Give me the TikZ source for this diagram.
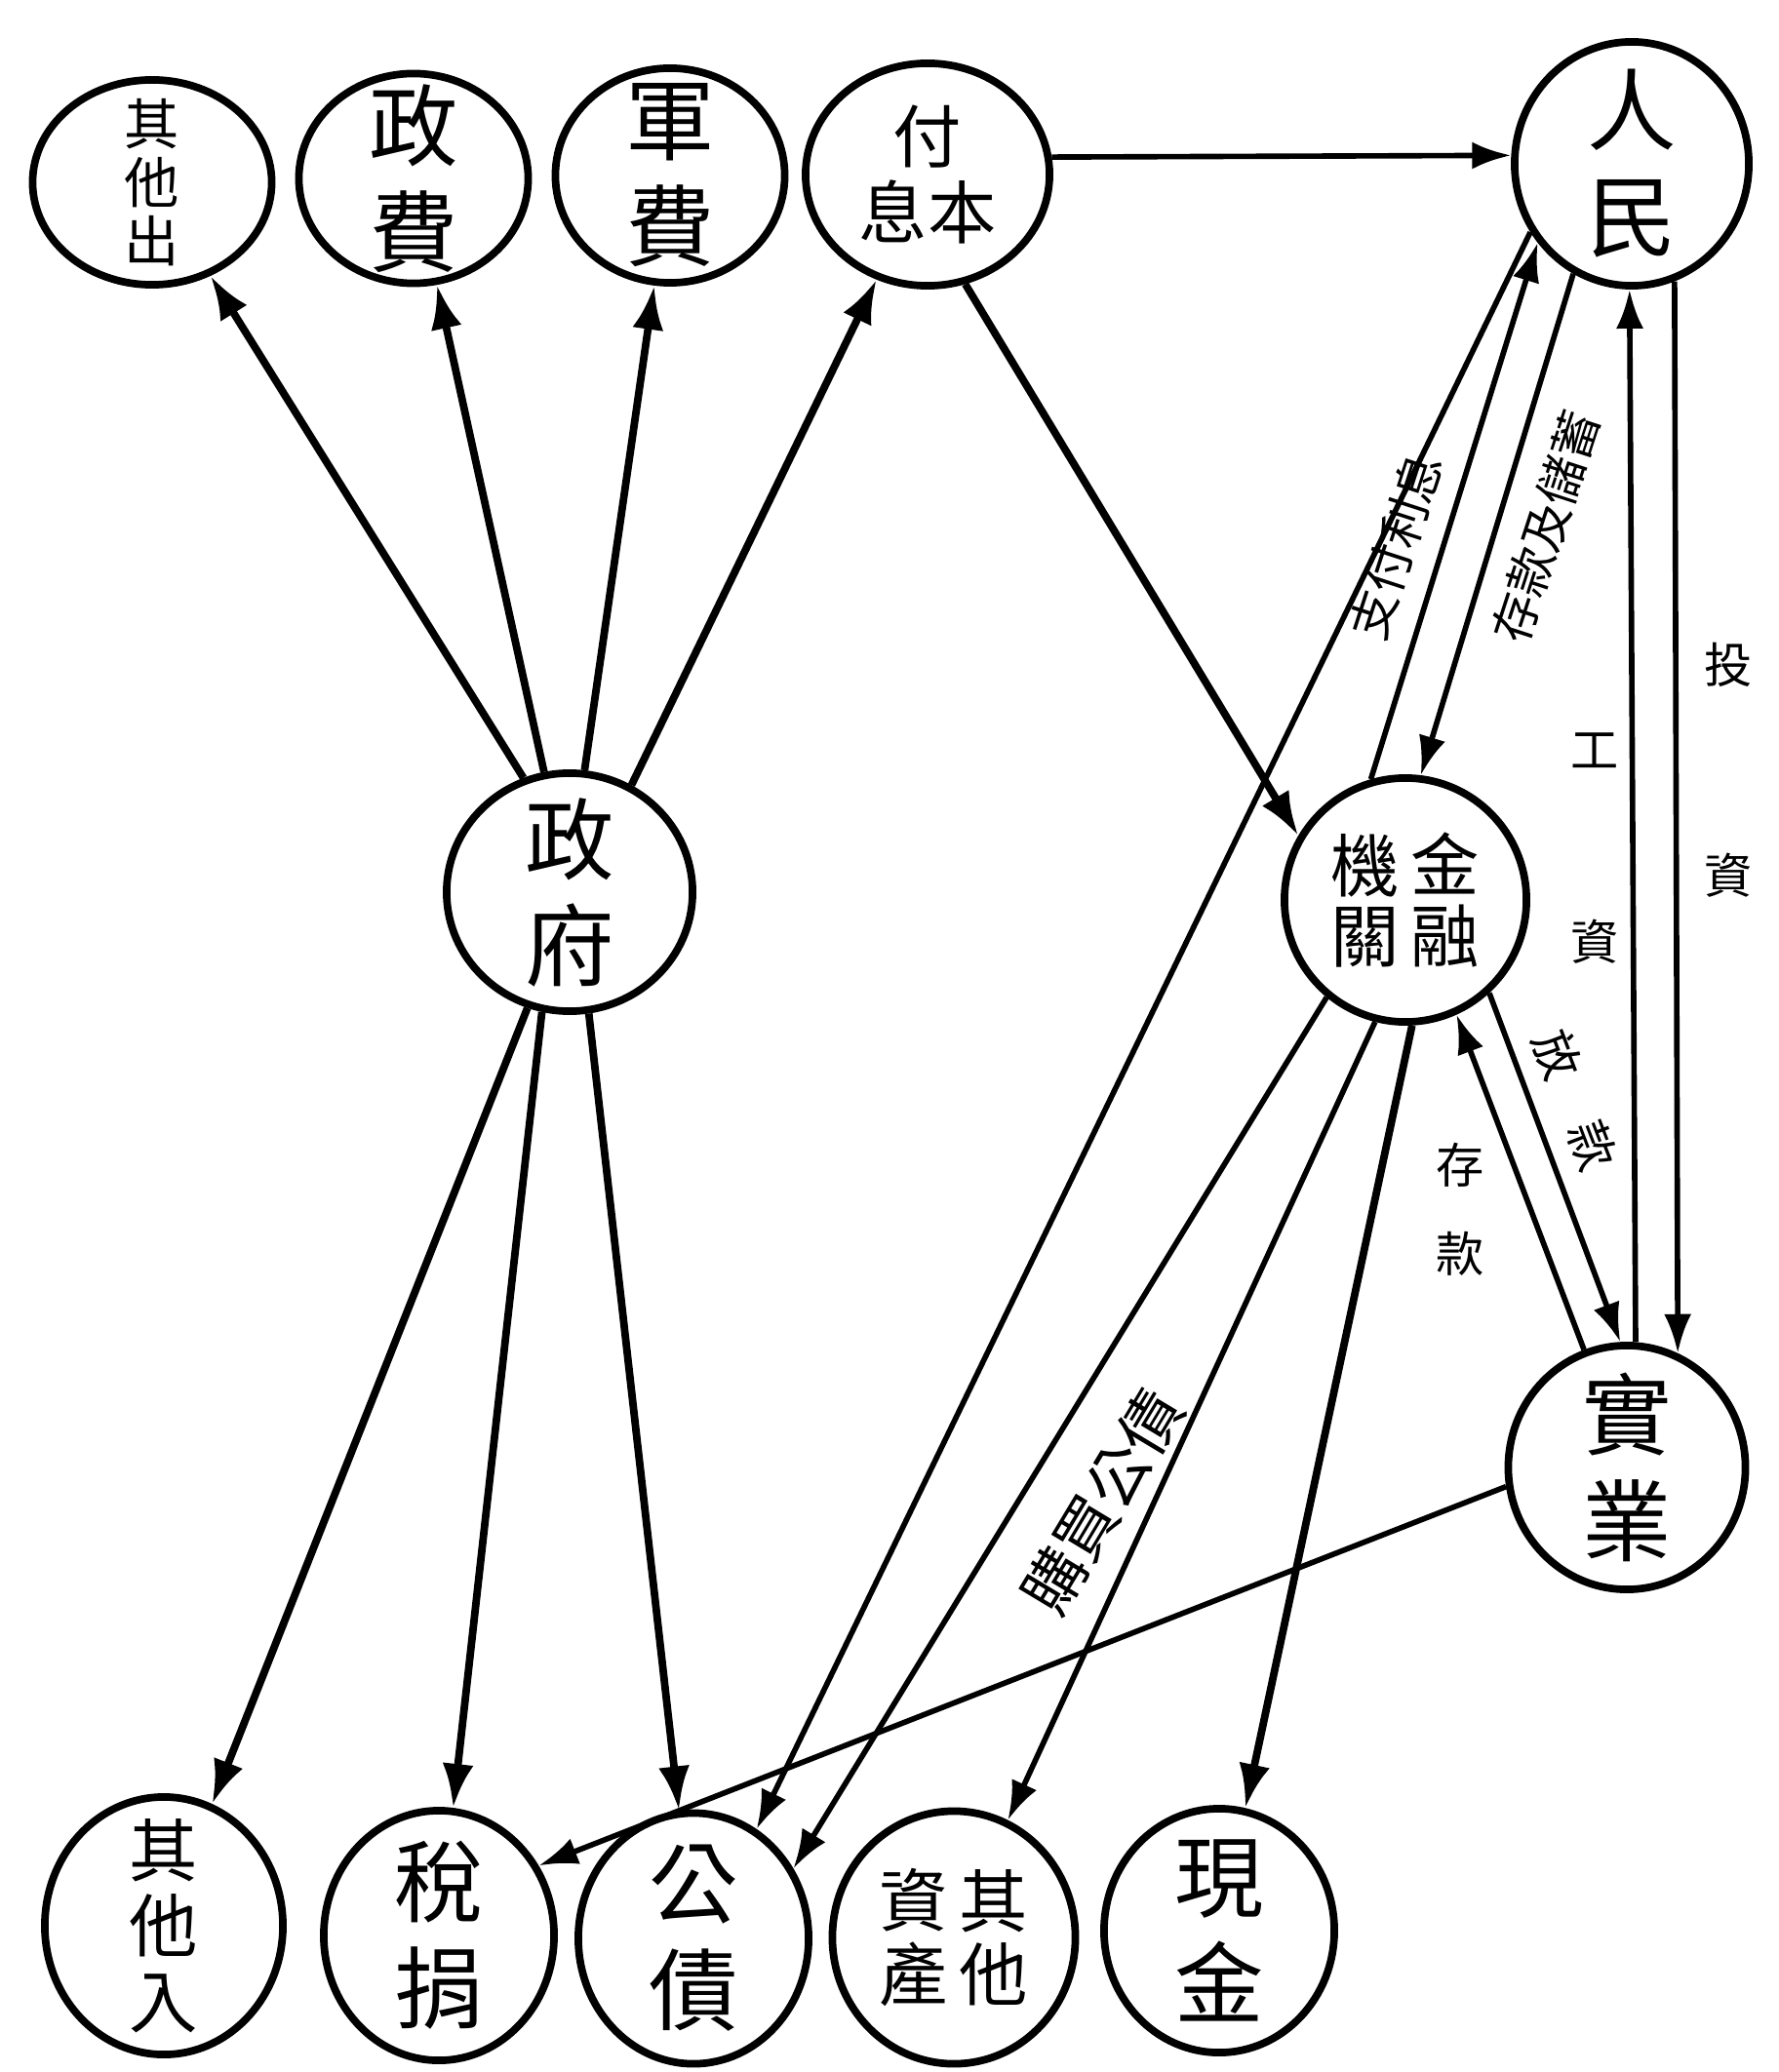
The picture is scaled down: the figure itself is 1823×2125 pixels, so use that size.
\documentclass[tikz,border=0pt]{standalone}
\usepackage{fontspec}
\newfontfamily\cjk{Noto Sans CJK TC}
\usetikzlibrary{arrows.meta,shapes.geometric}
\tikzset{
  bubble/.style={draw, ellipse, line width=2.2pt, inner sep=0pt},
  glyph/.style={font=\cjk\fontsize{26}{31}\selectfont, align=center, inner sep=0pt},
  smallglyph/.style={font=\cjk\fontsize{20}{22}\selectfont, align=center, inner sep=0pt},
  tinyglyph/.style={font=\cjk\fontsize{16}{17}\selectfont, align=center, inner sep=0pt},
  link/.style={line width=1.6pt},
  thicklink/.style={line width=2.2pt},
  flow/.style={link, -{Latex[length=4mm,width=2.8mm]}},
  thickflow/.style={thicklink, -{Latex[length=4.5mm,width=3.2mm]}},
  tag/.style={font=\cjk\fontsize{14}{16}\selectfont, inner sep=1pt, align=center}
}

\begin{document}
\begin{tikzpicture}[x=0.01cm, y=-0.01cm]
  \useasboundingbox (0,0) rectangle (1823,2125);
  % top row
  \node[bubble, minimum width=2.45cm, minimum height=2.1cm, label={[tinyglyph]center:{其\\他\\出}}] (ot) at (156,187) {};
  \node[bubble, minimum width=2.35cm, minimum height=2.15cm, label={[glyph]center:{政\\費}}] (zf) at (424,183) {};
  \node[bubble, minimum width=2.35cm, minimum height=2.2cm, label={[glyph]center:{軍\\費}}] (jf) at (687,180) {};
  \node[bubble, minimum width=2.5cm, minimum height=2.28cm, label={[smallglyph]center:{付\\息本}}] (fb) at (951,179) {};
  \node[bubble, minimum width=2.4cm, minimum height=2.5cm, label={[glyph]center:{人\\民}}] (rm) at (1673,168) {};
  % middle
  \node[bubble, minimum width=2.52cm, minimum height=2.44cm, label={[glyph]center:{政\\府}}] (gov) at (584,915) {};
  \node[bubble, minimum width=2.48cm, minimum height=2.5cm, label={[smallglyph]center:{\shortstack{機\\關}\,\shortstack{金\\融}}}] (bank) at (1441,923) {};
  \node[bubble, minimum width=2.43cm, minimum height=2.5cm, label={[glyph]center:{實\\業}}] (sy) at (1668,1505) {};
  % bottom row
  \node[bubble, minimum width=2.44cm, minimum height=2.64cm, label={[smallglyph]center:{其\\他\\入}}] (qr) at (168,1975) {};
  \node[bubble, minimum width=2.36cm, minimum height=2.56cm, label={[glyph]center:{稅\\捐}}] (sj) at (450,1985) {};
  \node[bubble, minimum width=2.36cm, minimum height=2.57cm, label={[glyph]center:{公\\債}}] (gz) at (711,1988) {};
  \node[bubble, minimum width=2.49cm, minimum height=2.59cm, label={[smallglyph]center:{\shortstack{資\\產}\,\shortstack{其\\他}}}] (zc) at (978,1987) {};
  \node[bubble, minimum width=2.36cm, minimum height=2.5cm, label={[glyph]center:{現\\金}}] (xj) at (1250,1980) {};

  % government
  \draw[thickflow] (gov.112) -- (ot);
  \draw[thickflow] (gov.102) -- (zf);
  \draw[thickflow] (gov.83) -- (jf);
  \draw[thickflow] (gov.60) -- (fb);
  \draw[thickflow] (gov.250) -- (qr);
  \draw[thickflow] (gov.257) -- (sj);
  \draw[thickflow] (gov.279) -- (gz);

  \draw[flow] (fb.8) -- (rm.176);
  \draw[thickflow] (fb.289) -- (bank.149);
  \draw[flow] (rm.214) -- (gz.60);

  % people, banks, industry
  \draw[flow] (bank.106) -- (rm.220);
  \draw[flow] (rm.242) -- (bank.83);
  \draw[flow] (sy.86) -- (rm.269);
  \draw[flow] (rm.290) -- (sy.66);
  \draw[flow] (sy.110) -- (bank.294);
  \draw[flow] (bank.312) -- (sy.93);
  \draw[flow] (bank.231) -- (gz.35);
  \draw[flow] (bank.256) -- (zc);
  \draw[thickflow] (bank.273) -- (xj);
  \draw[flow] (sy.189) -- (sj.35);

  \node[tag, rotate=72] (lbA) at (1431,560) {支付利息};
  \node[tag, rotate=72] (lbB) at (1585,540) {存款及儲蓄};
  \node[tag] (lbC) at (1635,870) {工\\[1.4cm]資};
  \node[tag] (lbD) at (1772,790) {投\\[1.6cm]資};
  \node[tag, rotate=-69] (lbE) at (1615,1128) {放\hspace{0.5cm}款};
  \node[tag] (lbF) at (1497,1240) {存\\[0.35cm]款};
  \node[tag, font=\cjk\fontsize{18}{20}\selectfont, rotate=59] (lbG) at (1130,1540) {購買公債};
\end{tikzpicture}
\end{document}
